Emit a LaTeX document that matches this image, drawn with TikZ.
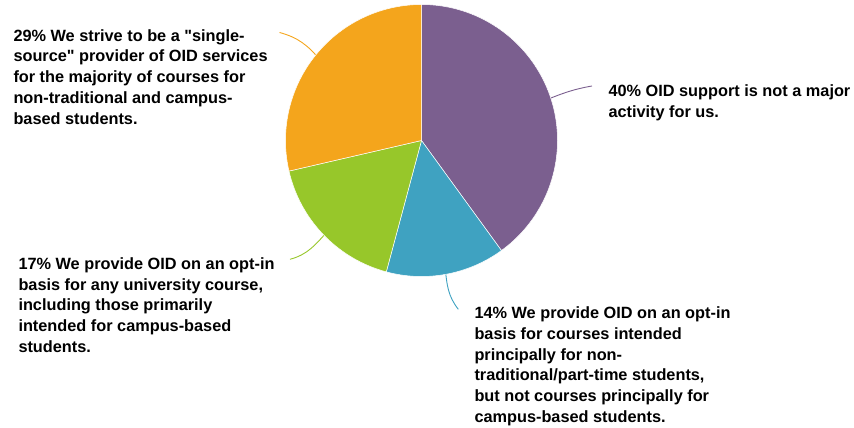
\documentclass[tikz,border=0pt]{standalone}
\usepackage{fontspec}
\setmainfont{Liberation Sans}[Ligatures=TeXOff]
\usetikzlibrary{calc}
\definecolor{oidpurple}{HTML}{7B5F8F}
\definecolor{oidblue}{HTML}{3FA2C1}
\definecolor{oidgreen}{HTML}{97C72A}
\definecolor{oidorange}{HTML}{F4A51C}
\tikzset{%
  slice/.style={draw=white, line width=0.5pt},
  leader/.style={line width=0.9pt},
  pielabel/.style={anchor=north west, inner sep=0pt, align=left,
    font=\bfseries\fontsize{16.3}{20.7}\selectfont}
}

\begin{document}
\begin{tikzpicture}[x=1pt,y=1pt]
  \useasboundingbox (0,0) rectangle (854,428);
  \def\pr{136}
  \coordinate (c) at (421.5,287.5);
  % leader ends
  \coordinate (p0) at ($(c)+(18:130)$);
  \coordinate (b0) at ($(c)+(-79.5:130)$);
  \coordinate (g0) at ($(c)+(-136:130)$);
  \coordinate (o0) at ($(c)+(141.5:130)$);
  \coordinate (p1) at (592,342);
  \coordinate (b1) at (458.3,118.7);
  \coordinate (g1) at (290,168.7);
  \coordinate (o1) at (279.5,395.5);
  \draw [leader, oidpurple] (p0) to[out=22, in=190] (p1);
  \draw [leader, oidblue] (b0) to[out=-84, in=128] (b1);
  \draw [leader, oidgreen] (g0) to[out=228, in=15] (g1);
  \draw [leader, oidorange] (o0) to[out=130, in=-15] (o1);
  % slices
  \filldraw [slice, fill=oidpurple] (c) -- ++(90:\pr) arc[start angle=90, end angle=-54, radius=\pr] -- cycle;
  \filldraw [slice, fill=oidblue] (c) -- ++(-54:\pr) arc[start angle=-54, end angle=-105, radius=\pr] -- cycle;
  \filldraw [slice, fill=oidgreen] (c) -- ++(-105:\pr) arc[start angle=-105, end angle=-167, radius=\pr] -- cycle;
  \filldraw [slice, fill=oidorange] (c) -- ++(-167:\pr) arc[start angle=-167, end angle=-270, radius=\pr] -- cycle;
  % labels
  \node [pielabel] (lp) at (608.3,343.5) {40\% OID support is not a major\\activity for us.};
  \node [pielabel] (lb) at (474.3,121.2) {14\% We provide OID on an opt-in\\basis for courses intended\\principally for non-\\traditional/part-time students,\\but not courses principally for\\campus-based students.};
  \node [pielabel] (lg) at (18.3,170.5) {17\% We provide OID on an opt-in\\basis for any university course,\\including those primarily\\intended for campus-based\\students.};
  \node [pielabel] (lo) at (13.3,398.8) {29\% We strive to be a "single-\\source" provider of OID services\\for the majority of courses for\\non-traditional and campus-\\based students.};
\end{tikzpicture}
\end{document}
